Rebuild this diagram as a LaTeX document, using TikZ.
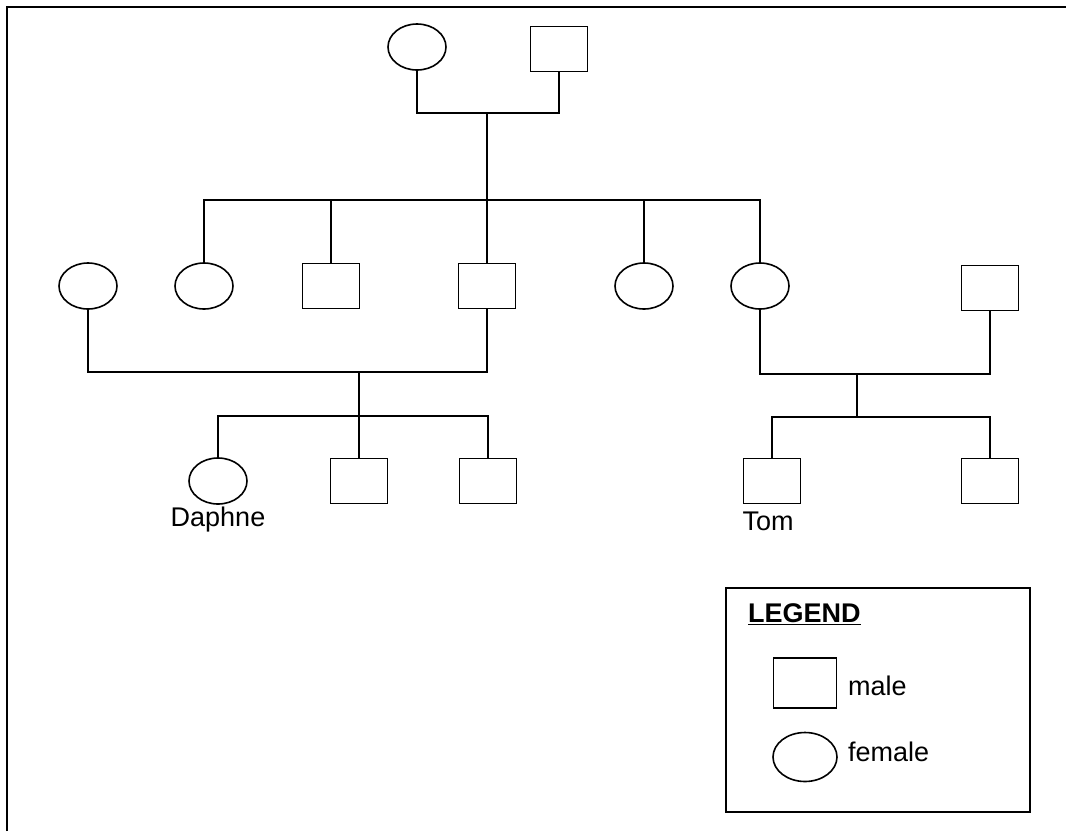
\documentclass[tikz,border=0pt]{standalone}
\usepackage{fontspec}
\setmainfont{Liberation Sans}
\usetikzlibrary{shapes.geometric}
\begin{document}
\begin{tikzpicture}[x=1pt,y=-1pt,
  female/.style={draw,ellipse,line width=1.6pt,minimum width=58pt,minimum height=46pt,inner sep=0pt},
  malebox/.style={draw,rectangle,line width=1.6pt,minimum width=57pt,minimum height=45pt,inner sep=0pt},
  link/.style={line width=1.4pt},
  lbl/.style={font=\fontsize{27}{32}\selectfont,inner sep=0pt}]
\useasboundingbox (0,0) rectangle (1066,831);
% frame
\draw[line width=2pt] (7,831) -- (7,7) -- (1066,7);
% generation 1
\node[female] (F0) at (417,47) {};
\node[malebox] (M0) at (559,49) {};
% generation 2
\node[female] (L1) at (88,286) {};
\node[female] (c1) at (204,286) {};
\node[malebox] (c2) at (331,286) {};
\node[malebox] (c3) at (487,286) {};
\node[female] (c4) at (644,286) {};
\node[female] (c5) at (760,286) {};
\node[malebox] (R1) at (990,288) {};
% generation 3
\node[female] (d1) at (218,481) {};
\node[malebox] (d2) at (359,481) {};
\node[malebox] (d3) at (488,481) {};
\node[malebox] (t1) at (772,481) {};
\node[malebox] (t2) at (990,481) {};
\node[lbl] (daphne) at (218,520) {Daphne};
\node[lbl] (tom) at (768,521) {Tom};
% couple 1
\coordinate (m0) at (487,113);
\coordinate (s0) at (487,200);
\draw[link] (F0.south) |- (m0) -| (M0.south);
\draw[link] (m0) -- (c3.north);
\draw[link] (c1.north) -- (c1.north |- s0) -- (c5.north |- s0) -- (c5.north);
\draw[link] (c2.north) -- (c2.north |- s0);
\draw[link] (c4.north) -- (c4.north |- s0);
% couple 2
\coordinate (m1) at (359,372);
\coordinate (s1) at (359,416);
\draw[link] (L1.south) |- (m1) -| (c3.south);
\draw[link] (m1) -- (d2.north);
\draw[link] (d1.north) -- (d1.north |- s1) -- (d3.north |- s1) -- (d3.north);
% couple 3
\coordinate (m2) at (857,374);
\coordinate (s2) at (857,417);
\draw[link] (c5.south) |- (m2) -| (R1.south);
\draw[link] (m2) -- (s2);
\draw[link] (t1.north) -- (t1.north |- s2) -- (t2.north |- s2) -- (t2.north);
% legend
\node[draw,line width=2pt,minimum width=304pt,minimum height=224pt,inner sep=0pt] (legend) at (878,700) {};
\node[lbl,anchor=west] (legtitle) at (748,614) {\bfseries\underline{LEGEND}};
\node[malebox,minimum width=63pt,minimum height=50pt] (lm) at (805,683) {};
\node[lbl,anchor=west] (lmt) at (848,686) {male};
\node[female,minimum width=64pt,minimum height=49pt] (lf) at (805,757) {};
\node[lbl,anchor=west] (lft) at (848,752) {female};
\end{tikzpicture}
\end{document}
